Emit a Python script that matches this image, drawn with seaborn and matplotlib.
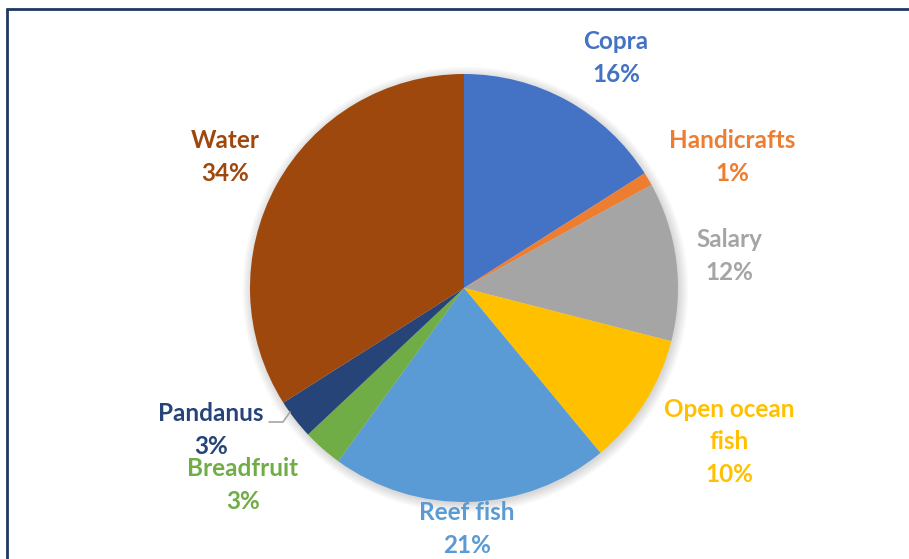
import matplotlib
matplotlib.use("Agg")
import matplotlib.pyplot as plt
import seaborn as sns
import numpy as np
from matplotlib.patches import Circle
from matplotlib.lines import Line2D

# Household income / resource shares
categories = ["Copra", "Handicrafts", "Salary", "Open ocean\nfish", "Reef fish",
              "Breadfruit", "Pandanus", "Water"]
shares = [16, 1, 12, 10, 21, 3, 3, 34]
colors = ["#4472C4", "#ED7D31", "#A5A5A5", "#FFC000", "#5B9BD5",
          "#70AD47", "#264478", "#9E480E"]

sns.set_theme(style="white")
plt.rcParams["font.family"] = ["Lato", "DejaVu Sans"]

W, H, DPI = 909, 559, 100
fig = plt.figure(figsize=(W / DPI, H / DPI), dpi=DPI)
ax = fig.add_axes([0, 0, 1, 1])

# pie centre and radius in pixels
cx, cy, R = 464, 288, 214

# soft shadow under the pie
for i in range(8):
    ax.add_patch(Circle((0.006, -0.008), 1.0 + 0.006 * i, color="black",
                        alpha=0.018, lw=0, zorder=0))

wedges, _ = ax.pie(shares, colors=colors, startangle=90, counterclock=False,
                   radius=1.0, wedgeprops=dict(linewidth=0))
for w in wedges:
    w.set_zorder(2)

ax.set_xlim(-cx / R, (W - cx) / R)
ax.set_ylim(-(H - cy) / R, cy / R)
ax.set_aspect("auto")
ax.axis("off")

# label anchors (pixel centres of each text block)
label_px = [(616, 58), (732, 157), (729, 256), (729, 442), (467, 529),
            (243, 485), (211, 430), (225, 157)]

for name, val, col, (px, py) in zip(categories, shares, colors, label_px):
    ax.text((px - cx) / R, (cy - py) / R, f"{name}\n{val}%", color=col,
            ha="center", va="center", fontsize=17.5, fontweight="bold",
            linespacing=1.5, zorder=5)

# leader line for Pandanus
lx = [(269 - cx) / R, (283 - cx) / R, (290 - cx) / R]
ly = [(cy - 422) / R, (cy - 422) / R, (cy - 412) / R]
ax.plot(lx, ly, color="#A6A6A6", lw=1.2, zorder=4)

# chart frame (top and left edges)
fig.add_artist(Line2D([7 / W, 1], [1 - 9 / H, 1 - 9 / H], color="#1F3864", lw=2.0))
fig.add_artist(Line2D([7 / W, 7 / W], [0, 1 - 9 / H], color="#1F3864", lw=2.0))

fig.savefig("out.png", dpi=DPI, facecolor="white")
